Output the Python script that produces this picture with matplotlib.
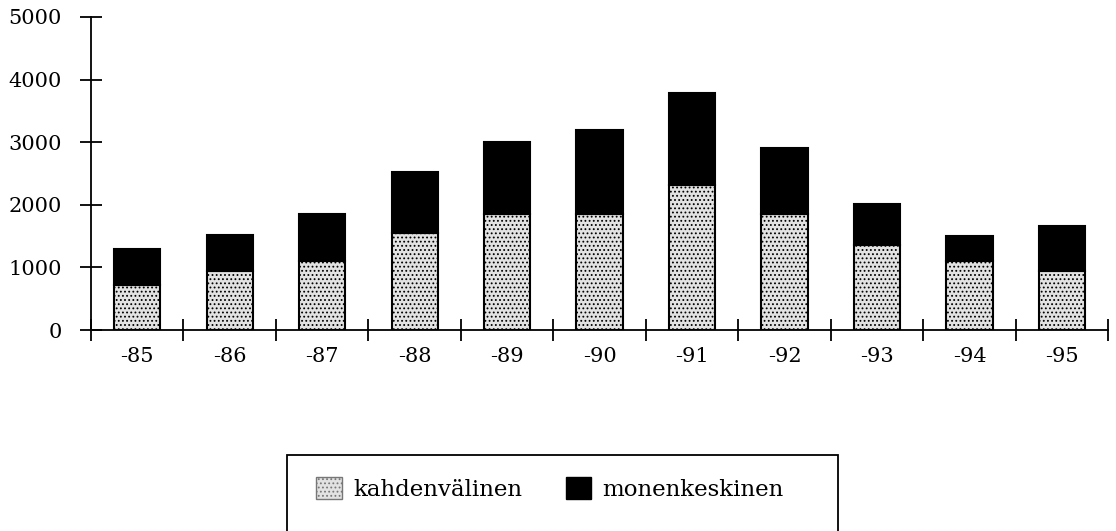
import matplotlib.pyplot as plt
from matplotlib.patches import Rectangle, Patch

vuodet = ['-85', '-86', '-87', '-88', '-89', '-90', '-91', '-92', '-93', '-94', '-95']
kahdenvalinen = [720, 950, 1100, 1550, 1860, 1860, 2320, 1860, 1360, 1100, 950]
monenkeskinen = [580, 560, 760, 970, 1140, 1340, 1460, 1040, 660, 400, 710]

plt.rcParams['font.family'] = ['DejaVu Serif']
plt.rcParams['hatch.color'] = '#a8a8a8'
plt.rcParams['hatch.linewidth'] = 0.8

fig = plt.figure(figsize=(11.16, 5.31), dpi=100)
ax = fig.add_axes([0.0815, 0.3785, 0.9115, 0.5895])

x = range(len(vuodet))
ax.bar(x, kahdenvalinen, width=0.5, color='#e2e2e2', edgecolor='black', linewidth=1.5,
       hatch='....', label='kahdenvälinen')
ax.bar(x, monenkeskinen, width=0.5, bottom=kahdenvalinen, color='black', edgecolor='black',
       linewidth=1.5, label='monenkeskinen')

ax.set_xlim(-0.5, len(vuodet) - 0.5)
ax.set_ylim(0, 5000)
ax.set_yticks([0, 1000, 2000, 3000, 4000, 5000])
ax.set_yticklabels(['0', '1000', '2000', '3000', '4000', '5000'], fontsize=15)
# category ticks sit between the bars, labels under the bars
ax.set_xticks([i - 0.5 for i in range(len(vuodet) + 1)])
ax.set_xticklabels([])
ax.set_xticks(list(x), minor=True)
ax.set_xticklabels(vuodet, minor=True, fontsize=15)
ax.tick_params(axis='x', which='minor', length=0, pad=12)
ax.tick_params(axis='both', which='major', direction='inout', length=16, width=1.3)
ax.tick_params(axis='y', pad=13)

for s in ['top', 'right']:
    ax.spines[s].set_visible(False)
ax.spines['left'].set_linewidth(1.3)
ax.spines['bottom'].set_linewidth(1.3)

# legend box, cut by the bottom of the page
fig.patches.append(Rectangle((287 / 1116, -0.05), (838 - 287) / 1116, 0.05 + (531 - 455) / 531,
                             transform=fig.transFigure, facecolor='none', edgecolor='black',
                             linewidth=1.3))
handles = [Patch(facecolor='#e2e2e2', edgecolor='#777777', hatch='....'),
           Patch(facecolor='black', edgecolor='black')]
fig.legend(handles, ['kahdenvälinen', 'monenkeskinen'], loc='center left',
           bbox_to_anchor=(305 / 1116, 1 - 489 / 531), ncol=2, frameon=False, fontsize=16.5,
           handlelength=1.1, handleheight=1.1, handletextpad=0.5, columnspacing=1.9,
           borderpad=0)

fig.savefig('out.png', dpi=100)
